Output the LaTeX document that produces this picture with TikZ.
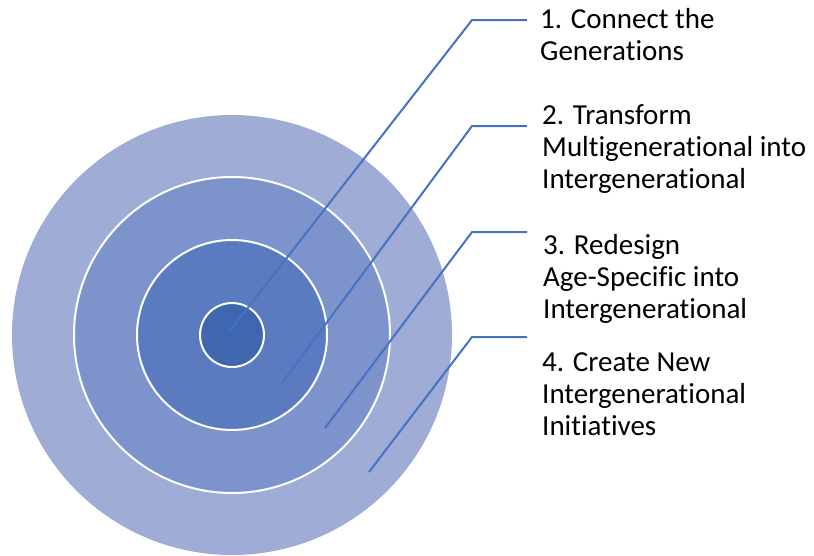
\documentclass[tikz,border=0pt]{standalone}
\usepackage{fontspec}
\setmainfont{Carlito}[Ligatures=NoCommon]
\usepackage{tikz}

\definecolor{ringa}{HTML}{9EACD6}
\definecolor{ringb}{HTML}{7C94CB}
\definecolor{ringc}{HTML}{5B7BC0}
\definecolor{ringd}{HTML}{3E67B0}
\definecolor{leadblue}{HTML}{4472C4}

\begin{document}
\begin{tikzpicture}[x=1pt, y=-1pt,
  ring/.style={circle, draw=white, line width=2pt, inner sep=0pt},
  lbl/.style={anchor=base west, align=left, inner sep=0pt, font=\fontsize{29}{31.8}\selectfont},
  lead/.style={draw=leadblue, line width=2pt}]
\useasboundingbox (0,0) rectangle (814,555);
\node[ring, draw=none, fill=ringa, minimum size=440pt] (r4) at (232,335) {};
\node[ring, fill=ringb, minimum size=316pt] (r3) at (232,335) {};
\node[ring, fill=ringc, minimum size=190pt] (r2) at (232,335) {};
\node[ring, fill=ringd, minimum size=64pt] (r1) at (232,335) {};
\coordinate (s1) at (229,332);
\coordinate (k1) at (472,20);
\coordinate (e1) at (527,20);
\coordinate (s2) at (282,383);
\coordinate (k2) at (472,126);
\coordinate (e2) at (527,126);
\coordinate (s3) at (325,428);
\coordinate (k3) at (472,232);
\coordinate (e3) at (527,232);
\coordinate (s4) at (369,472);
\coordinate (k4) at (472,337);
\coordinate (e4) at (527,337);
\draw[lead] (s1) -- (k1) -- (e1);
\draw[lead] (s2) -- (k2) -- (e2);
\draw[lead] (s3) -- (k3) -- (e3);
\draw[lead] (s4) -- (k4) -- (e4);
%% labels (base = last line)
\node[lbl] (t1) at (540,60) {1. Connect the\\Generations};
\node[lbl] (t2) at (542,188) {2. Transform\\Multigenerational into\\Intergenerational};
\node[lbl] (t3) at (543,318) {3. Redesign\\Age-Specific into\\Intergenerational};
\node[lbl] (t4) at (542,435) {4. Create New\\Intergenerational\\Initiatives};
\end{tikzpicture}
\end{document}
